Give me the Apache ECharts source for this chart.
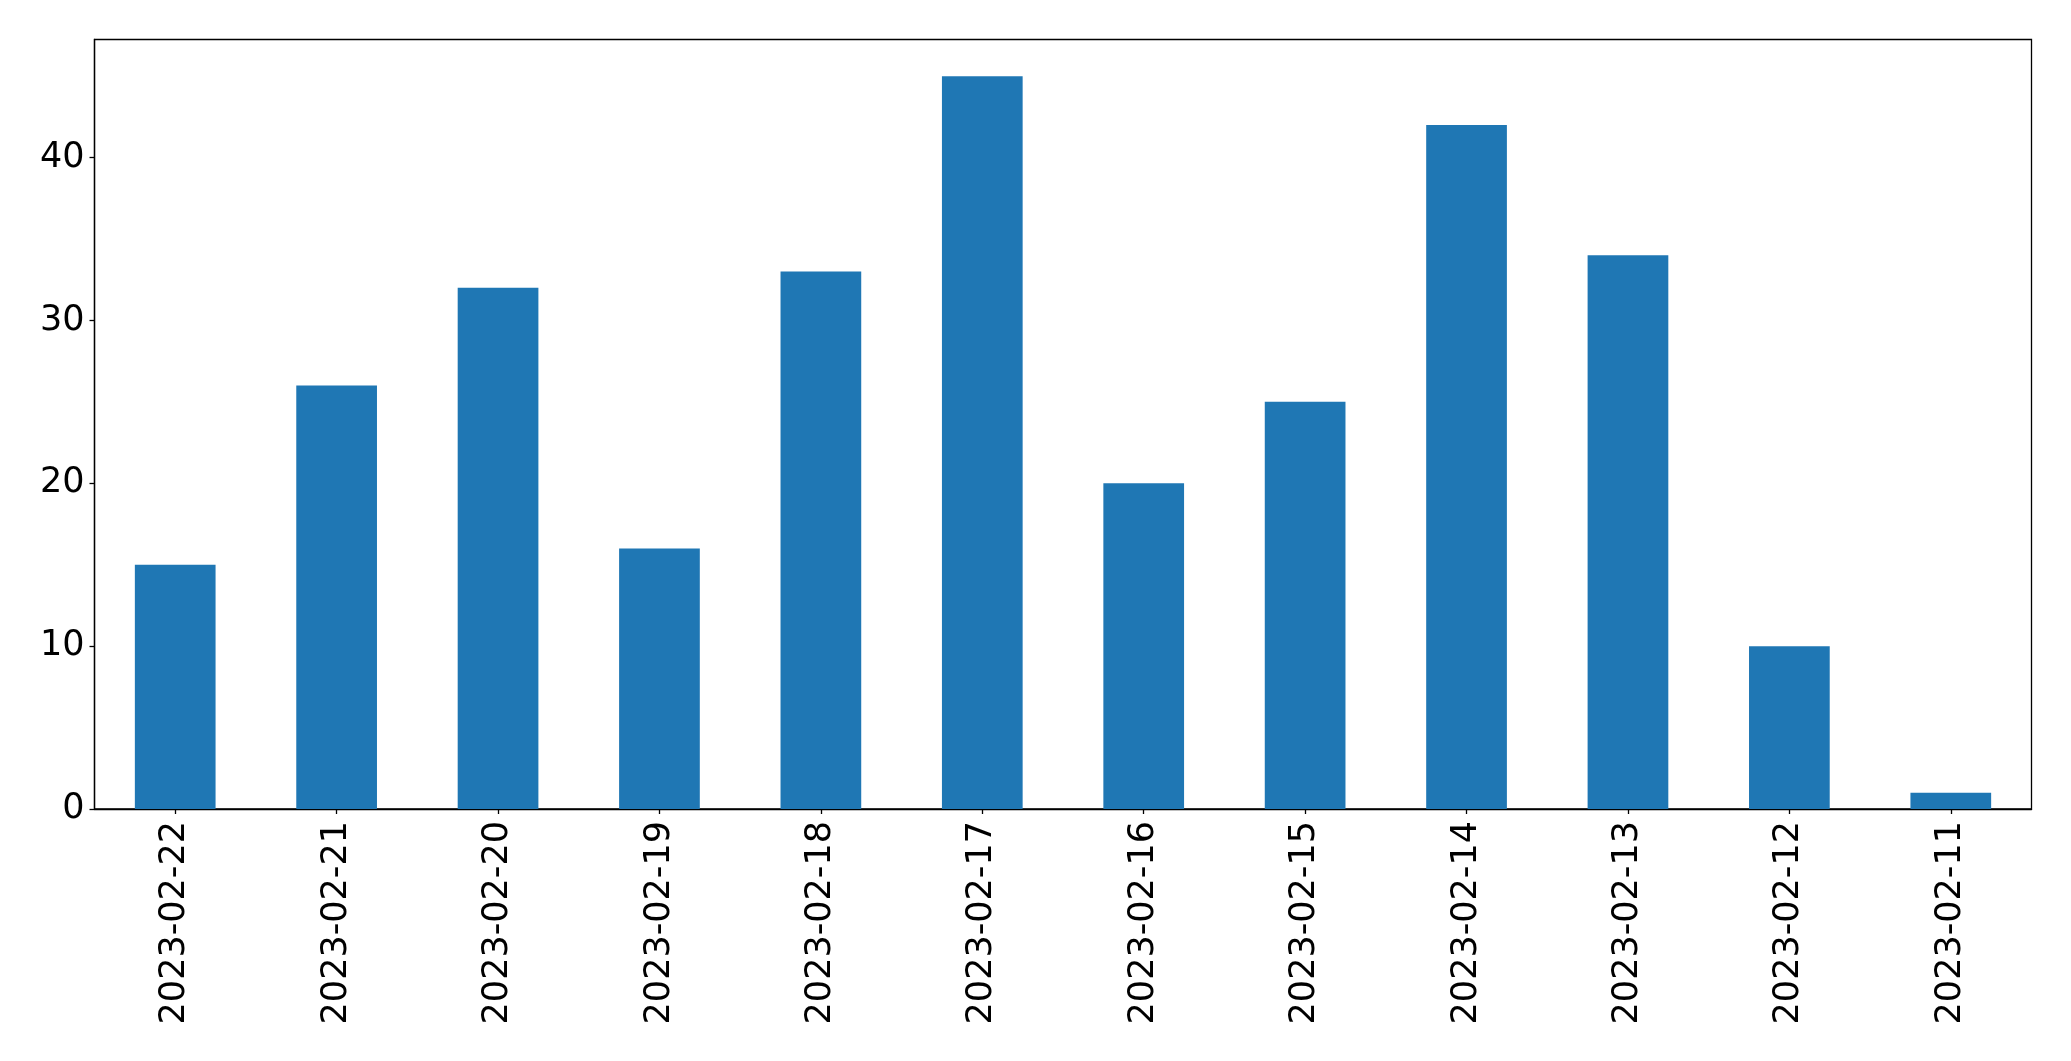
<!DOCTYPE html>
<html>
<head>
<meta charset="utf-8">
<script src="https://cdn.jsdelivr.net/npm/echarts@6/dist/echarts.min.js"></script>
<style>html,body{margin:0;padding:0;background:#fff;}#c{width:2071px;height:1061px;}</style>
</head>
<body>
<div id="c"></div>
<script>
const categories = ["2023-02-22","2023-02-21","2023-02-20","2023-02-19","2023-02-18","2023-02-17","2023-02-16","2023-02-15","2023-02-14","2023-02-13","2023-02-12","2023-02-11"];
const values = [15, 26, 32, 16, 33, 45, 20, 25, 42, 34, 10, 1];
const yTicks = [0, 10, 20, 30, 40];

const chart = echarts.init(document.getElementById('c'), null, {renderer: 'canvas'});
const font = 'DejaVu Sans';
chart.setOption({
  animation: false,
  backgroundColor: '#ffffff',
  grid: {left: 94.5, right: 39.5, top: 39.5, bottom: 252, show: true, borderColor: '#000', borderWidth: 1.3, backgroundColor: 'transparent'},
  xAxis: {
    type: 'category',
    data: categories,
    boundaryGap: true,
    axisLine: {show: true, lineStyle: {color: '#000', width: 1.3}},
    axisTick: {show: true, alignWithLabel: true, length: 5, lineStyle: {color: '#000', width: 1.3}},
    axisLabel: {rotate: 90, interval: 0, margin: 12, fontFamily: font, fontSize: 35, color: '#000'},
    splitLine: {show: false}
  },
  yAxis: {
    type: 'value',
    min: 0,
    max: 47.25,
    interval: 10,
    axisLine: {show: true, lineStyle: {color: '#000', width: 1.3}},
    axisTick: {show: true, length: 5, customValues: yTicks, lineStyle: {color: '#000', width: 1.3}},
    axisLabel: {margin: 10, fontFamily: font, fontSize: 35, color: '#000', customValues: yTicks},
    splitLine: {show: false}
  },
  series: [{
    type: 'bar',
    data: values,
    barWidth: '50%',
    itemStyle: {color: '#1f77b4'}
  }]
});
</script>
</body>
</html>
